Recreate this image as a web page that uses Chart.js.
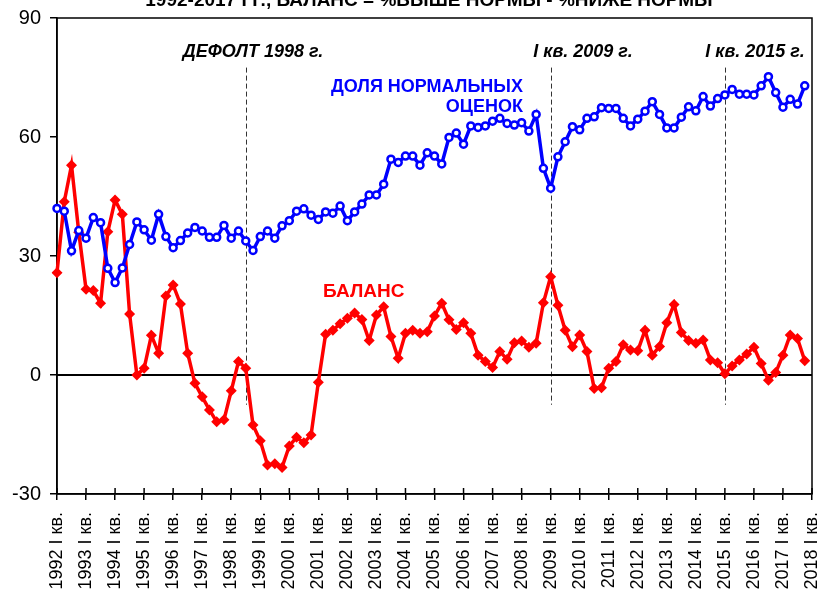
<!DOCTYPE html>
<html>
<head>
<meta charset="utf-8">
<script src="https://cdn.jsdelivr.net/npm/chart.js@4.4.1/dist/chart.umd.min.js"></script>
<style>
  html, body { margin: 0; padding: 0; background: #fff; }
</style>
</head>
<body>
<canvas id="myCanvas" width="821" height="595"></canvas>
<script>
/* quarters 1992 I .. 2018 I (the last one has no data) */
var firstYear = 1992;
var lastYear = 2018;
var quarterNames = ['I', 'II', 'III', 'IV'];

/* share of "normal" answers, % */
var normalShare = [
  42.0, 41.3, 31.3, 36.4, 34.5, 39.7, 38.4, 26.9, 23.3, 27.0, 32.9, 38.6,
  36.6, 34.0, 40.5, 34.9, 32.1, 33.9, 35.8, 37.2, 36.3, 34.7, 34.7, 37.7,
  34.5, 36.3, 33.8, 31.4, 34.9, 36.3, 34.5, 37.6, 38.9, 41.3, 41.9, 40.3,
  39.2, 41.1, 40.8, 42.6, 38.9, 41.1, 43.1, 45.4, 45.4, 48.1, 54.4, 53.6,
  55.2, 55.2, 52.9, 56.0, 55.2, 53.2, 59.9, 61.0, 58.2, 62.8, 62.4, 62.8,
  64.0, 64.7, 63.4, 63.0, 63.6, 61.5, 65.7, 52.1, 47.1, 55.0, 58.8, 62.6,
  61.8, 64.7, 65.1, 67.4, 67.2, 67.2, 64.7, 62.8, 64.5, 66.5, 68.9, 65.7,
  62.3, 62.3, 65.0, 67.6, 66.6, 70.2, 67.8, 69.7, 70.6, 72.0, 70.8, 70.8,
  70.6, 72.9, 75.2, 71.2, 67.5, 69.5, 68.3, 72.9
];

/* balance = % above normal - % below normal */
var balance = [
  25.8, 43.7, 52.9, 36.0, 21.6, 21.3, 18.1, 36.1, 44.1, 40.5, 15.4, 0.0,
  1.7, 10.0, 5.5, 19.9, 22.7, 17.9, 5.5, -2.1, -5.5, -8.8, -11.8, -11.3,
  -4.0, 3.4, 1.7, -12.6, -16.6, -22.7, -22.4, -23.3, -17.9, -15.7, -17.1, -15.1,
  -1.8, 10.3, 11.3, 12.9, 14.3, 15.6, 14.0, 8.7, 15.1, 17.2, 9.7, 4.2,
  10.5, 11.3, 10.5, 10.9, 14.9, 18.1, 13.9, 11.5, 13.2, 10.5, 5.0, 3.4,
  1.9, 5.9, 4.0, 8.1, 8.6, 7.0, 8.0, 18.2, 24.8, 17.6, 11.3, 7.1,
  10.1, 5.9, -3.4, -3.2, 1.7, 3.4, 7.6, 6.3, 6.1, 11.3, 5.0, 7.2,
  13.2, 17.8, 10.7, 8.7, 8.0, 8.8, 3.8, 3.1, 0.3, 2.3, 3.8, 5.3,
  7.0, 2.9, -1.3, 0.6, 5.0, 10.1, 9.2, 3.6
];

/* quarters marked with dashed lines: 1998 III, 2009 I, 2015 I */
var markedQuarters = [26, 68, 92];

var yTicks = [-30, 0, 30, 60, 90];

var labels = [];
for (var y = firstYear; y <= lastYear; y++) {
  for (var q = 0; q < 4; q++) {
    if (y === lastYear && q > 0) break;
    labels.push(y + ' ' + quarterNames[q] + ' кв.');
  }
}

var FONT = "'Liberation Sans', Arial, sans-serif";

/* draws the frame, zero line, dashed markers, x tick crosses and all captions */
var decorations = {
  id: 'decorations',
  beforeDatasetsDraw: function(chart) {
    var c = chart.ctx;
    var area = chart.chartArea;
    var xs = chart.scales.x;
    var ys = chart.scales.y;
    c.save();
    /* dashed vertical lines */
    c.strokeStyle = '#333';
    c.lineWidth = 1;
    c.setLineDash([5, 3]);
    markedQuarters.forEach(function(i) {
      var px = Math.round(xs.getPixelForValue(i)) + 0.5;
      c.beginPath();
      c.moveTo(px, ys.getPixelForValue(77.5));
      c.lineTo(px, ys.getPixelForValue(-7.5));
      c.stroke();
    });
    c.setLineDash([]);
    /* zero line */
    c.strokeStyle = '#000';
    c.lineWidth = 2;
    c.beginPath();
    c.moveTo(area.left, ys.getPixelForValue(0));
    c.lineTo(area.right, ys.getPixelForValue(0));
    c.stroke();
    /* frame */
    c.lineWidth = 1.5;
    c.strokeRect(area.left, area.top, area.right - area.left, area.bottom - area.top);
    /* upper half of the x tick crosses */
    for (var i = 0; i < labels.length; i += 4) {
      var tx = xs.getPixelForValue(i);
      c.beginPath();
      c.moveTo(tx, area.bottom);
      c.lineTo(tx, area.bottom - 6);
      c.stroke();
    }
    c.restore();
  },
  afterDraw: function(chart) {
    var c = chart.ctx;
    c.save();
    c.textBaseline = 'alphabetic';
    /* title, cut off by the top of the picture */
    c.fillStyle = '#000';
    c.textAlign = 'center';
    c.font = 'bold 19px ' + FONT;
    c.fillText('1992-2017 ГГ., БАЛАНС = %ВЫШЕ НОРМЫ - %НИЖЕ НОРМЫ', 429, 6);
    /* event captions */
    c.font = 'italic bold 18px ' + FONT;
    c.fillText('ДЕФОЛТ 1998 г.', 253, 57);
    c.fillText('I кв. 2009 г.', 583, 57);
    c.fillText('I кв. 2015 г.', 755, 57);
    /* series captions */
    c.font = 'bold 18px ' + FONT;
    c.fillStyle = '#0000ff';
    c.textAlign = 'right';
    c.fillText('ДОЛЯ НОРМАЛЬНЫХ', 523, 92);
    c.fillText('ОЦЕНОК', 523, 112);
    c.fillStyle = '#ff0000';
    c.textAlign = 'left';
    c.font = 'bold 19px ' + FONT;
    c.fillText('БАЛАНС', 323, 297);
    c.restore();
  }
};

var ctx = document.getElementById('myCanvas');
var myChart = new Chart(ctx, {
  type: 'line',
  data: {
    labels: labels,
    datasets: [{
        label: 'ДОЛЯ НОРМАЛЬНЫХ ОЦЕНОК',
        data: normalShare,
        borderColor: '#0000ff',
        backgroundColor: '#ffffff',
        borderWidth: 3.5,
        pointStyle: 'circle',
        pointRadius: 3.5,
        pointBorderWidth: 2.5,
        pointBorderColor: '#0000ff',
        pointBackgroundColor: '#ffffff',
        tension: 0,
        order: 1
      },
      {
        label: 'БАЛАНС',
        data: balance,
        borderColor: '#ff0000',
        backgroundColor: '#ff0000',
        borderWidth: 3.5,
        pointStyle: 'rectRot',
        pointRadius: 5.5,
        pointBorderWidth: 0,
        pointBackgroundColor: '#ff0000',
        tension: 0,
        order: 2
    }]
  },
  options: {
    responsive: false,
    animation: false,
    devicePixelRatio: 1,
    layout: {
      padding: { top: 18, right: 9, left: 0, bottom: 0 }
    },
    plugins: {
      legend: { display: false },
      title: { display: false },
      tooltip: { enabled: false }
    },
    scales: {
      x: {
        type: 'category',
        offset: false,
        afterFit: function(scale) {
          scale.height = 101;
          scale.paddingLeft = 0;
          scale.paddingRight = 0;
        },
        border: { display: true, color: '#000', width: 1.5 },
        grid: {
          drawOnChartArea: false,
          drawTicks: true,
          tickLength: 6,
          lineWidth: 1.5,
          color: function(context) {
            return context.index % 4 === 0 ? '#000' : 'rgba(0,0,0,0)';
          }
        },
        ticks: {
          autoSkip: false,
          maxRotation: 90,
          minRotation: 90,
          padding: 12,
          color: '#000',
          font: { family: FONT, size: 18 },
          callback: function(value, index) {
            return index % 4 === 0 ? labels[index] : '';
          }
        }
      },
      y: {
        min: -30,
        max: 90,
        afterFit: function(scale) {
          scale.width = 57;
          scale.paddingTop = 0;
          scale.paddingBottom = 0;
        },
        afterBuildTicks: function(scale) {
          scale.ticks = yTicks.map(function(v) { return { value: v }; });
        },
        border: { display: true, color: '#000', width: 1.5 },
        grid: {
          drawOnChartArea: false,
          drawTicks: true,
          tickLength: 7,
          lineWidth: 1.5,
          color: '#000'
        },
        ticks: {
          padding: 9,
          color: '#000',
          font: { family: FONT, size: 20 }
        }
      }
    }
  },
  plugins: [decorations]
});
</script>
</body>
</html>
